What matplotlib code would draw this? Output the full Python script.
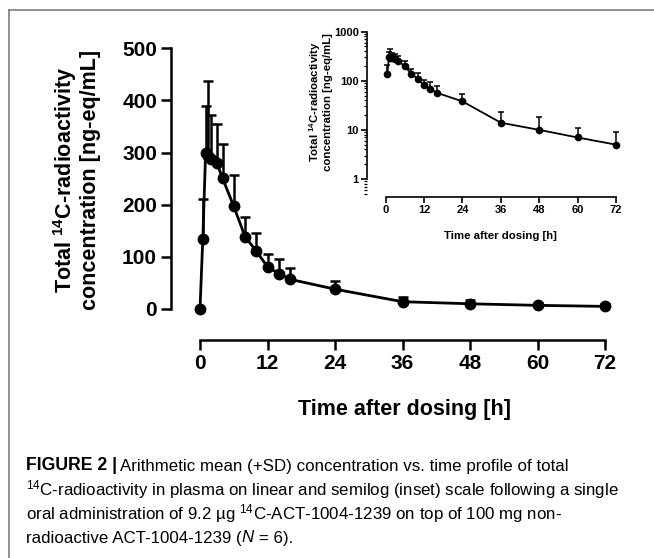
import numpy as np
import matplotlib
matplotlib.use("Agg")
import matplotlib.pyplot as plt
from matplotlib.lines import Line2D
from matplotlib import font_manager as fm
from matplotlib.ticker import LogLocator, NullFormatter, FixedLocator

# ---------------- data ----------------
time_h = [0, 0.5, 1, 1.5, 2, 3, 4, 6, 8, 10, 12, 14, 16, 24, 36, 48, 60, 72]
mean_conc = [0, 135, 300, 294, 288, 280, 251, 197, 139, 111, 81, 68, 57, 38, 14, 10, 7, 5]
sd_conc = [0, 76, 89, 143, 84, 75, 65, 60, 38, 35, 25, 27, 21, 15, 9, 8, 4, 4]
x_ticks = [0, 12, 24, 36, 48, 60, 72]
y_ticks_lin = [0, 100, 200, 300, 400, 500]
y_ticks_log = [1, 10, 100, 1000]
y_ticklabels_log = ["1", "10", "100", "1000"]

# ---------------- fonts ----------------
plt.rcParams['font.family'] = ['Liberation Sans', 'DejaVu Sans']
plt.rcParams['mathtext.fontset'] = 'custom'
plt.rcParams['mathtext.rm'] = 'Liberation Sans'
plt.rcParams['mathtext.it'] = 'Liberation Sans:italic'
plt.rcParams['mathtext.bf'] = 'Liberation Sans:bold'

names = {f.name for f in fm.fontManager.ttflist}
cap_family = 'Liberation Sans Narrow' if 'Liberation Sans Narrow' in names else 'Liberation Sans'

W, H = 654, 558
fig = plt.figure(figsize=(W / 100, H / 100), dpi=100)

def fx(px):
    return px / W

def fy(py):
    return 1 - py / H

# border lines (gray)
fig.add_artist(Line2D([fx(9), fx(654)], [fy(10), fy(10)], color='#7f7f7f', lw=1.2))
fig.add_artist(Line2D([fx(9), fx(9)], [fy(10), fy(558)], color='#7f7f7f', lw=1.2))

# ---------------- main axes ----------------
L, R, T, B = 171, 620, 40, 340
ax = fig.add_axes([fx(L), fy(B), (R - L) / W, (B - T) / H])
xpp = (605 - 200) / 72.0
ypp = (309 - 48.3) / 500.0
ax.set_xlim(-(200 - L) / xpp, 72 + (R - 605) / xpp)
ax.set_ylim(-(B - 309) / ypp, 500 + (48.3 - T) / ypp)

t = np.array(time_h)
m = np.array(mean_conc)
s = np.array(sd_conc)
ax.errorbar(t, m, yerr=[np.zeros_like(s), s], fmt='none', ecolor='black',
            elinewidth=1.8, capsize=3.5, capthick=1.8, zorder=2)
ax.plot(t, m, color='black', lw=2.0, marker='o', ms=7.5, zorder=3)

for sp in ['top', 'right']:
    ax.spines[sp].set_visible(False)
ax.spines['left'].set_bounds(0, 500)
ax.spines['bottom'].set_bounds(0, 72)
ax.spines['left'].set_linewidth(1.8)
ax.spines['bottom'].set_linewidth(1.8)
ax.set_xticks(x_ticks)
ax.set_yticks(y_ticks_lin)
ax.tick_params(axis='both', direction='out', length=7, width=1.8, labelsize=15, pad=3)
for lab in ax.get_xticklabels() + ax.get_yticklabels():
    lab.set_fontweight('bold')
ax.patch.set_alpha(0)

fig.text(fx(404), fy(410), 'Time after dosing [h]', ha='center', va='center',
         fontsize=15.5, fontweight='bold')
fig.text(fx(76), fy(180), 'Total $^{\\mathbf{14}}$C-radioactivity\nconcentration [ng-eq/mL]',
         ha='center', va='center', rotation=90, fontsize=15.5, fontweight='bold',
         multialignment='center', linespacing=1.05)

# ---------------- inset axes ----------------
iL, iR, iT, iB = 367, 625, 25, 197
ax2 = fig.add_axes([fx(iL), fy(iB), (iR - iL) / W, (iB - iT) / H])
ixpp = (616 - 385.7) / 72.0
dec = 49.0
ax2.set_yscale('log')
ax2.set_xlim(-(385.7 - iL) / ixpp, 72 + (iR - 616) / ixpp)
ax2.set_ylim(10 ** (-(iB - 179) / dec), 10 ** (3 + (31.7 - iT) / dec))
ax2.errorbar(t[1:], m[1:], yerr=[np.zeros_like(s[1:]), s[1:]], fmt='none', ecolor='black',
             elinewidth=1.1, capsize=2, capthick=1.1, zorder=2)
ax2.plot(t[1:], m[1:], color='black', lw=1.3, marker='o', ms=4.5, zorder=3)
for sp in ['top', 'right']:
    ax2.spines[sp].set_visible(False)
ax2.spines['left'].set_bounds(1, 1000)
ax2.spines['bottom'].set_bounds(0, 72)
ax2.spines['left'].set_linewidth(1.2)
ax2.spines['bottom'].set_linewidth(1.2)
ax2.set_xticks(x_ticks)
ax2.yaxis.set_major_locator(FixedLocator(y_ticks_log))
ax2.set_yticklabels(y_ticklabels_log)
ax2.yaxis.set_minor_locator(LogLocator(base=10, subs=np.arange(2, 10), numticks=20))
ax2.yaxis.set_minor_formatter(NullFormatter())
ax2.tick_params(axis='both', which='major', direction='out', length=4, width=1.2,
                labelsize=8, pad=2)
ax2.tick_params(axis='y', which='minor', direction='out', length=2.5, width=0.9)
for lab in ax2.get_xticklabels() + ax2.get_yticklabels():
    lab.set_fontweight('bold')
ax2.patch.set_alpha(0)

fig.text(fx(500), fy(236), 'Time after dosing [h]', ha='center', va='center',
         fontsize=8.2, fontweight='bold')
fig.text(fx(320), fy(102), 'Total $^{\\mathbf{14}}$C-radioactivity\nconcentration [ng-eq/mL]',
         ha='center', va='center', rotation=90, fontsize=8.2, fontweight='bold',
         multialignment='center', linespacing=1.05)

# ---------------- caption ----------------
cap_fs = 12.2
renderer = fig.canvas.get_renderer()
x0 = 26
lines_y = [466, 490, 514, 538]
t1 = fig.text(fx(x0), fy(lines_y[0]), 'FIGURE 2 |', ha='left', va='center',
              fontsize=cap_fs + 0.5, fontweight='bold', family='Liberation Sans')
bb = t1.get_window_extent(renderer=renderer)
fig.text(bb.x1 / W + fx(3), fy(lines_y[0]),
         'Arithmetic mean (+SD) concentration vs. time profile of total',
         ha='left', va='center', fontsize=cap_fs, family=cap_family)
fig.text(fx(x0), fy(lines_y[1]),
         '$^{14}$C-radioactivity in plasma on linear and semilog (inset) scale following a single',
         ha='left', va='center', fontsize=cap_fs, family=cap_family)
fig.text(fx(x0), fy(lines_y[2]),
         'oral administration of 9.2 µg $^{14}$C-ACT-1004-1239 on top of 100 mg non-',
         ha='left', va='center', fontsize=cap_fs, family=cap_family)
t4 = fig.text(fx(x0), fy(lines_y[3]), 'radioactive ACT-1004-1239 (',
              ha='left', va='center', fontsize=cap_fs, family=cap_family)
bb4 = t4.get_window_extent(renderer=renderer)
t5 = fig.text(bb4.x1 / W, fy(lines_y[3]), 'N',
              ha='left', va='center', fontsize=cap_fs, family=cap_family, style='italic')
bb5 = t5.get_window_extent(renderer=renderer)
fig.text(bb5.x1 / W, fy(lines_y[3]), ' = 6).',
         ha='left', va='center', fontsize=cap_fs, family=cap_family)

fig.savefig('out.png', dpi=100)
